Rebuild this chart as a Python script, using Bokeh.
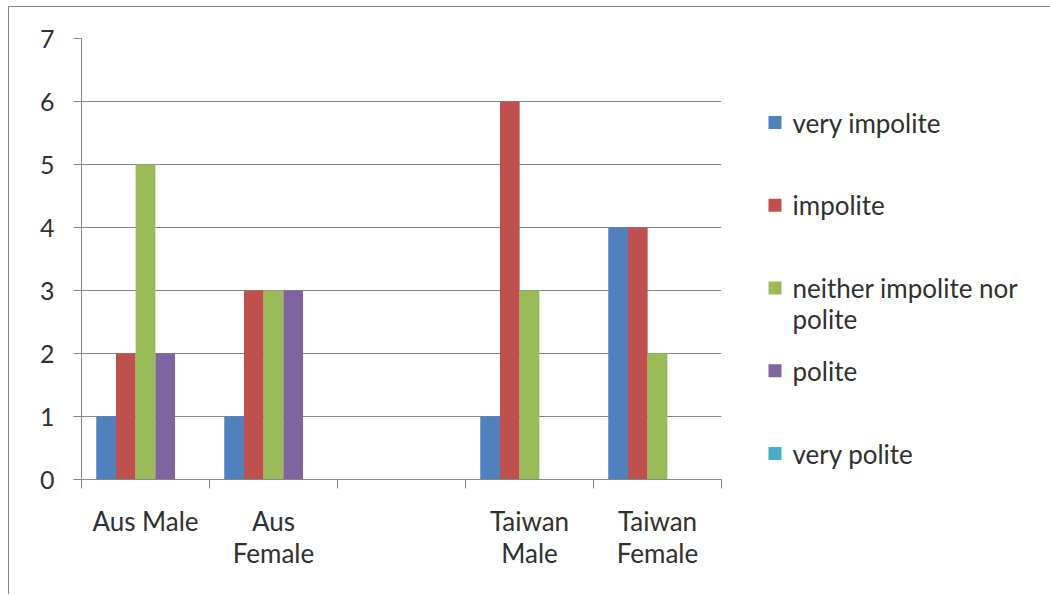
from bokeh.plotting import figure
from bokeh.layouts import row
from bokeh.models import FixedTicker, Range1d
from bokeh.core.properties import value
from bokeh.embed import file_html
from bokeh.resources import INLINE

categories = ["Aus Male", "Aus\nFemale", "", "Taiwan\nMale", "Taiwan\nFemale"]
series_names = ["very impolite", "impolite", "neither impolite nor\npolite", "polite", "very polite"]
very_impolite = [1, 1, 0, 1, 4]
impolite = [2, 3, 0, 6, 4]
neither = [5, 3, 0, 3, 2]
polite = [2, 3, 0, 0, 0]
very_polite = [0, 0, 0, 0, 0]
y_ticks = [0, 1, 2, 3, 4, 5, 6, 7]
colors = ["#4F81BD", "#C0504D", "#9BBB59", "#8064A2", "#4BACC6"]

series_values = [very_impolite, impolite, neither, polite, very_polite]

FONT = "Lato"
TEXT = "#303030"
GRID = "#878787"
MB_TOP, MB_BOTTOM, HEIGHT = 31, 115, 587

# ---------------- main chart ----------------
p = figure(width=722, height=HEIGHT, x_range=Range1d(0, 5), y_range=Range1d(0, 7),
           output_backend="svg", toolbar_location=None,
           min_border_left=72, min_border_right=10, min_border_top=MB_TOP, min_border_bottom=MB_BOTTOM)
p.outline_line_color = None

n_series = len(series_values)
bar_w = 1.0 / 6.5
centers = [i + 0.5 for i in range(len(categories))]
for j, (vals, col) in enumerate(zip(series_values, colors)):
    xs = [c + (j - (n_series - 1) / 2) * bar_w for c in centers]
    p.vbar(x=xs, top=vals, bottom=0, width=bar_w, fill_color=col, line_color=None)

xax = p.xaxis[0]
xax.ticker = FixedTicker(ticks=centers, minor_ticks=list(range(len(categories) + 1)))
xax.major_label_overrides = {c: lab for c, lab in zip(centers, categories)}
xax.major_tick_out = 0
xax.major_tick_in = 0
xax.minor_tick_out = 9
xax.minor_tick_in = 0
xax.minor_tick_line_color = GRID
xax.axis_line_color = GRID
xax.major_label_text_font = FONT
xax.major_label_text_font_size = "26px"
xax.major_label_text_color = TEXT
xax.major_label_text_line_height = 1.0
xax.major_label_standoff = 16

yax = p.yaxis[0]
yax.ticker = FixedTicker(ticks=y_ticks)
yax.major_tick_out = 8
yax.major_tick_in = 0
yax.minor_tick_out = 0
yax.minor_tick_in = 0
yax.major_tick_line_color = GRID
yax.axis_line_color = GRID
yax.major_label_text_font = FONT
yax.major_label_text_font_size = "25px"
yax.major_label_text_color = TEXT
yax.major_label_standoff = 19

p.xgrid.visible = False
p.ygrid.grid_line_color = GRID
p.ygrid.grid_line_width = 1

# ---------------- legend panel ----------------
SLOT = 82.75
FRAME_H = HEIGHT - MB_TOP - MB_BOTTOM
TOP_OFF = 84
leg = figure(width=319, height=HEIGHT, x_range=Range1d(0, 319),
             y_range=Range1d((FRAME_H - TOP_OFF) / SLOT, -TOP_OFF / SLOT),
             output_backend="svg", toolbar_location=None,
             x_axis_type=None, y_axis_type=None,
             min_border_left=0, min_border_right=0, min_border_top=MB_TOP, min_border_bottom=MB_BOTTOM)
leg.outline_line_color = None
leg.xgrid.visible = False
leg.ygrid.visible = False

slots = list(range(len(series_names)))
leg.scatter(x=[43.5] * len(slots), y=slots, marker="square", size=13,
            fill_color=colors, line_color=None)

LINE = 31.0 / SLOT
tx, ty, tt = [], [], []
for s, name in zip(slots, series_names):
    for k, line in enumerate(name.split("\n")):
        tx.append(61)
        ty.append(s + k * LINE)
        tt.append(line)
leg.text(x=tx, y=ty, text=tt, text_font=value(FONT), text_font_size="26px",
         text_color=TEXT, text_baseline="middle", text_align="left")

lay = row(p, leg, spacing=0,
          styles={"margin-left": "8px", "margin-top": "6px",
                  "border-left": "1px solid #868686", "border-top": "1px solid #868686"})

open("out.html", "w").write(file_html(lay, INLINE))
